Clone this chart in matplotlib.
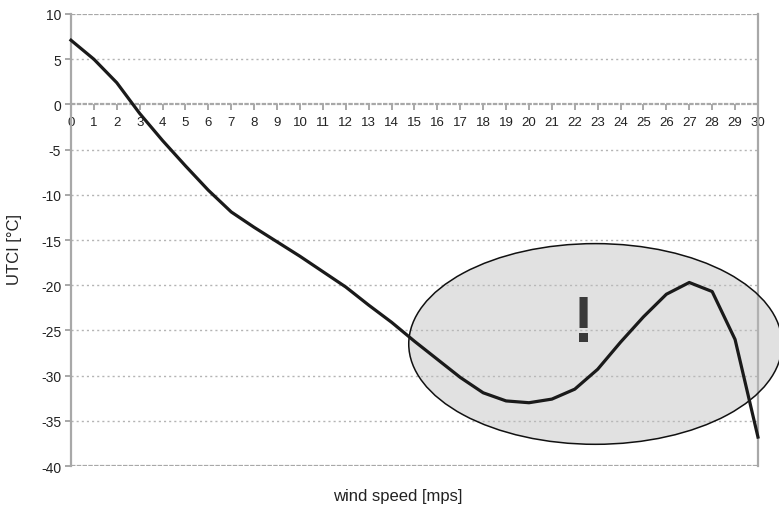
import matplotlib.pyplot as plt
from matplotlib.patches import Ellipse

plt.rcParams['font.family'] = ['Liberation Sans', 'DejaVu Sans']
plt.rcParams['axes.unicode_minus'] = False

# wind speed [mps] and UTCI [°C]
wind = [0, 1, 2, 3, 4, 5, 6, 7, 8, 9, 10, 11, 12, 13, 14, 15,
        16, 17, 18, 19, 20, 21, 22, 23, 24, 25, 26, 27, 28, 29, 30]
utci = [7.1, 5.0, 2.4, -1.0, -4.0, -6.8, -9.5, -11.9, -13.6, -15.2, -16.8,
        -18.5, -20.2, -22.2, -24.1, -26.2, -28.2, -30.2, -31.9, -32.8, -33.0,
        -32.6, -31.5, -29.3, -26.3, -23.5, -21.0, -19.7, -20.7, -26.0, -36.8]

yticks = list(range(-40, 11, 5))
xticks = list(range(0, 31))

fig = plt.figure(figsize=(7.79, 5.10), dpi=100)
ax = fig.add_axes([0.0911, 0.0843, 0.8819, 0.8863])
ax.set_xlim(0, 30)
ax.set_ylim(-40, 10)

grey = '#a8a8a8'
for y in yticks:
    if y in (10, -40, 0):
        ax.axhline(y, color=grey, lw=1.6, ls=(0, (2, 0.6)), zorder=1)
    else:
        ax.axhline(y, color='#b4b4b4', lw=1.0, ls=(0, (1.5, 2.2)), zorder=1)

ax.spines['top'].set_visible(False)
ax.spines['bottom'].set_position(('data', 0))
ax.spines['bottom'].set_color(grey)
ax.spines['bottom'].set_linewidth(0)
ax.spines['left'].set_color(grey)
ax.spines['right'].set_color(grey)
ax.spines['left'].set_linewidth(1.6)
ax.spines['right'].set_linewidth(1.6)

ax.set_xticks(xticks)
ax.set_yticks(yticks)
ax.tick_params(axis='x', direction='out', length=4, width=1.4, color=grey,
               labelsize=9.5, pad=4, labelcolor='#222222')
ax.tick_params(axis='y', direction='out', length=4, width=1.4, color=grey,
               labelsize=10, pad=3, labelcolor='#222222')

ell = Ellipse((22.9, -26.5), 16.3, 22.2, facecolor=(0.74, 0.74, 0.74, 0.45),
              edgecolor='#111111', lw=1.1, zorder=3, clip_on=False)
ax.add_patch(ell)

ax.plot(wind, utci, color='#1a1a1a', lw=2.3, zorder=4, clip_on=False,
        solid_joinstyle='round')

ax.text(22.4, -24.3, '!', fontsize=46, fontweight='bold', color='#3a3a3a',
        ha='center', va='center', zorder=5)

fig.text(0.51, 0.027, 'wind speed [mps]', ha='center', va='center',
         fontsize=12, color='#222222')
fig.text(0.019, 0.51, 'UTCI [°C]', ha='center', va='center', rotation=90,
         fontsize=12, color='#222222')

fig.savefig('out.png', dpi=100)
